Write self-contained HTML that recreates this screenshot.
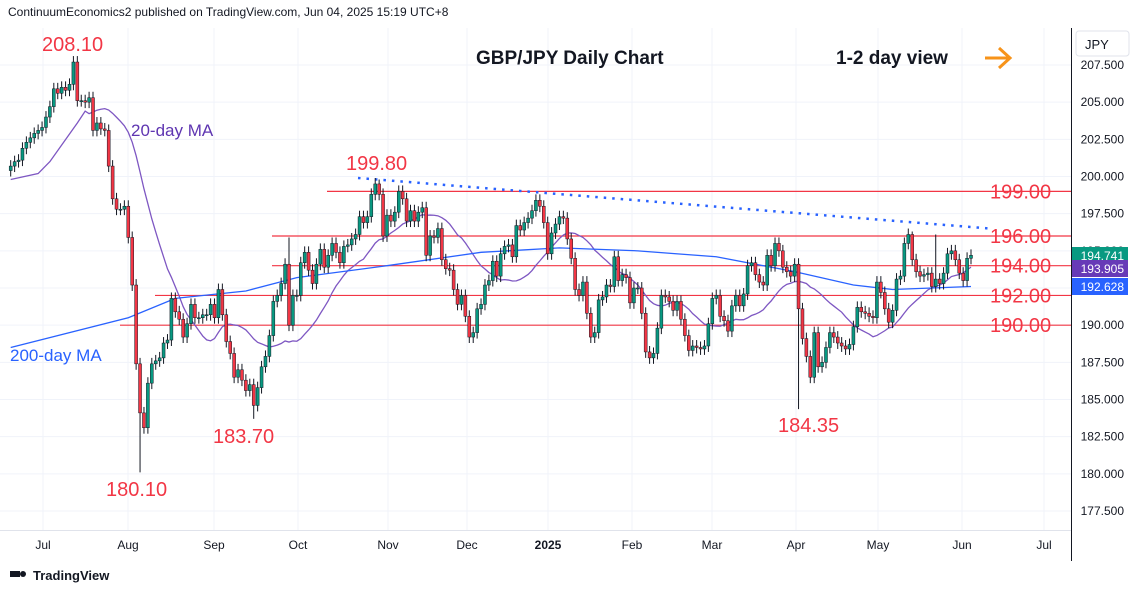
<!DOCTYPE html>
<html><head><meta charset="utf-8"><style>
body{margin:0;background:#fff;width:1143px;height:593px;overflow:hidden;font-family:"Liberation Sans",sans-serif}
svg text{font-family:"Liberation Sans",sans-serif}
</style></head><body>
<svg id="chart" width="1143" height="593" xmlns="http://www.w3.org/2000/svg">
<text x="8" y="16" font-size="12" fill="#131722">ContinuumEconomics2 published on TradingView.com, Jun 04, 2025 15:19 UTC+8</text>
<g id="grid"></g>
<g id="levels"></g>
<g id="mas"></g>
<g id="candles"></g>
<line x1="1071.5" y1="28" x2="1071.5" y2="561" stroke="#131722" stroke-width="1"/>
<line x1="0" y1="530.5" x2="1071" y2="530.5" stroke="#e0e3eb"/>
<g id="yaxis"></g>
<g id="xaxis"></g>
<rect x="1076" y="31" width="53" height="25" rx="3" fill="#fff" stroke="#e0e3eb"/>
<text x="1085" y="49" font-size="13" fill="#131722">JPY</text>
<text x="476" y="64" font-size="19" font-weight="bold" fill="#131722">GBP/JPY Daily Chart</text>
<text x="836" y="64" font-size="19" font-weight="bold" fill="#131722">1-2 day view</text>
<g><line x1="985" y1="58" x2="1008" y2="58" stroke="#f7931a" stroke-width="3"/><polyline points="999,48 1010,58 999,68" fill="none" stroke="#f7931a" stroke-width="3"/></g>
<text x="131" y="136" font-size="17" fill="#5e35b1">20-day MA</text>
<text x="10" y="361" font-size="17" fill="#2962ff">200-day MA</text>
<g font-size="20" fill="#f23645">
<text x="42" y="51">208.10</text>
<text x="346" y="170">199.80</text>
<text x="213" y="443">183.70</text>
<text x="106" y="496">180.10</text>
<text x="778" y="432">184.35</text>
</g>
<g id="levelLabels" font-size="20" fill="#f23645"></g>
<g id="tags"></g>
<g><rect x="10" y="571" width="10" height="6" fill="#131722"/><circle cx="23" cy="574" r="3" fill="#131722"/><text x="33" y="580" font-size="13" font-weight="bold" fill="#131722">TradingView</text></g>
</svg>
<script>
const closes=[200.7,201.0,201.1,201.9,202.3,202.6,202.9,203.1,203.3,204.0,
204.7,205.9,205.6,206.0,205.8,206.2,207.7,205.1,205.1,205.0,
205.3,203.1,203.6,203.2,203.1,200.7,198.5,197.8,197.8,198.0,
195.9,192.7,187.4,184.1,183.1,186.1,187.4,187.6,187.8,188.8,
189.0,191.8,190.9,190.4,189.2,190.1,191.4,190.5,190.5,190.7,
190.7,191.4,190.5,192.4,190.7,188.9,188.1,186.5,187.0,186.3,
185.6,186.0,184.6,185.8,187.2,187.9,189.3,191.6,
192.0,192.8,194.1,190.0,192.0,192.0,194.2,194.9,193.7,192.8,194.1,195.1,193.9,194.7,195.5,194.9,194.2,195.3,195.4,
195.8,196.1,197.3,196.9,197.3,198.8,199.5,198.8,196.0,197.4,
197.0,197.6,199.0,198.5,197.0,197.7,197.0,197.6,197.9,194.7,
196.0,195.9,196.5,194.4,193.8,193.7,192.4,191.4,192.0,190.6,
189.2,189.5,191.1,191.4,192.7,193.0,194.3,193.3,194.8,195.3,
195.4,194.6,196.7,196.4,196.9,197.2,197.7,198.4,198.0,196.9,
194.8,196.2,196.8,197.3,
197.2,195.8,194.5,192.4,192.0,192.9,190.8,189.2,189.5,191.7,
191.9,192.7,192.6,194.6,193.0,193.4,193.2,191.5,192.5,192.5,
190.8,188.2,187.8,188.1,189.8,192.0,191.9,191.6,191.0,191.6,
190.4,189.3,188.3,188.6,188.5,188.4,188.6,190.1,191.8,192.0,
190.6,190.3,189.6,191.3,192.0,191.3,192.1,194.0,194.2,193.4,
192.9,192.7,194.7,194.0,195.5,195.0,193.9,193.6,
193.3,194.1,191.1,189.1,187.9,186.5,189.5,187.2,187.5,188.5,
189.5,189.2,188.8,188.6,188.4,188.7,189.9,191.2,190.9,190.8,
190.6,190.5,192.9,192.2,191.1,190.2,191.0,193.1,193.3,195.5,
196.1,194.4,193.6,193.3,193.4,193.5,192.6,193.1,192.8,193.5,
194.8,195.0,194.4,193.5,193.0,194.5,194.7];
const extremeIdx=[16,33,62,71,94,201,230,236];
const extremeHigh=[208.1,null,null,195.9,199.8,null,196.3,196.1];
const extremeLow=[null,180.1,183.7,null,null,184.35,null,null];
const ma20EarlyIdx=[0,7,10,17,19];
const ma20EarlyVal=[199.8,200.2,201.0,203.6,204.4];
const ma200Idx=[0,30,42,60,73,96,120,140,160,180,200,215,225,235,245];
const ma200Val=[188.5,190.5,191.8,192.3,193.2,194.0,194.9,195.2,195.0,194.6,193.6,192.7,192.4,192.5,192.6];
const levels=[199,196,194,192,190];
const levelStartX=[327,272,272,155,120];
const priceTicks=["207.500","205.000","202.500","200.000","197.500","195.000","192.500","190.000","187.500","185.000","182.500","180.000","177.500"];
const months=["Jul","Aug","Sep","Oct","Nov","Dec","2025","Feb","Mar","Apr","May","Jun","Jul"];
const monthX=[43,128,214,298,388,467,548,632,712,796,878,962,1044];
const trend=[[358,199.9],[990,196.5]];

const NS="http://www.w3.org/2000/svg";
const Y=v=>65+(207.5-v)*14.867;
const X0=10.7,STEP=(971-10.7)/(closes.length-1);
const X=i=>X0+i*STEP;
function mk(tag,attrs,parent){const e=document.createElementNS(NS,tag);for(const k in attrs)e.setAttribute(k,attrs[k]);parent.appendChild(e);return e;}
const grid=document.getElementById('grid');
priceTicks.forEach((t,k)=>{const y=Y(parseFloat(t));
 const l=mk('line',{x1:0,x2:1071,y1:y,y2:y,stroke:'#f0f3fa'},grid);
 
 
 const tx=mk('text',{x:1124,y:y+4,'font-size':12,fill:'#131722','text-anchor':'end'},document.getElementById('yaxis'));
 tx.textContent=t;
 
 
});
months.forEach((m,k)=>{
 const l=mk('line',{x1:monthX[k],x2:monthX[k],y1:28,y2:530,stroke:'#f0f3fa'},grid);
 
 
 const tx=mk('text',{x:monthX[k],y:549,'font-size':12,fill:'#131722','text-anchor':'middle','font-weight':m==='2025'?'bold':'normal'},document.getElementById('xaxis'));
 tx.textContent=m;
 
 
});
const lv=document.getElementById('levels');
levels.forEach((v,k)=>{
 const l=mk('line',{x1:levelStartX[k],x2:1071,y1:Y(v),y2:Y(v),stroke:'#f23645','stroke-width':1.2},lv);
 
 
 const t=mk('text',{x:990,y:Y(v)+7},document.getElementById('levelLabels'));
 t.textContent=v.toFixed(2);
 
 
});
const tl=mk('line',{x1:trend[0][0],y1:Y(trend[0][1]),x2:trend[1][0],y2:Y(trend[1][1]),stroke:'#2962ff','stroke-width':2.5,'stroke-dasharray':'2.5 6'},lv);


// MAs
const mas=document.getElementById('mas');
let p20=ma20EarlyIdx.map((i,k)=>X(i)+','+Y(ma20EarlyVal[k]));
let last20=0;
for(let i=20;i<closes.length;i++){let s=0;for(let j=i-19;j<=i;j++)s+=closes[j];last20=s/20;p20.push(X(i)+','+Y(last20));}
const m20=mk('polyline',{points:p20.join(' '),fill:'none',stroke:'#7e57c2','stroke-width':1.3},mas);


const m200=mk('polyline',{points:ma200Idx.map((i,k)=>X(i)+','+Y(ma200Val[k])).join(' '),fill:'none',stroke:'#2962ff','stroke-width':1.3},mas);


// candles
const cg=document.getElementById('candles');
closes.forEach((c,i)=>{
 const o=i?closes[i-1]:c-0.3;
 const up=c>=o,col=up?'#089981':'#f23645';
 let hi=Math.max(o,c)+0.4,lo=Math.min(o,c)-0.4;
 const k=extremeIdx.indexOf(i);
 if(k>=0){if(extremeHigh[k]!=null)hi=extremeHigh[k];if(extremeLow[k]!=null)lo=extremeLow[k];}
 const g=mk('g',{},cg);
 
 
 const x=X(i);
 mk('line',{x1:x,x2:x,y1:Y(hi),y2:Y(lo),stroke:'#131722','stroke-width':1},g);
 const yt=Y(Math.max(o,c)),yb=Y(Math.min(o,c));
 mk('rect',{x:x-1.5,y:yt,width:3,height:Math.max(1,yb-yt),fill:col,stroke:'#131722','stroke-width':0.5},g);
});
// tags
const tags=document.getElementById('tags');
const tagVals=[closes[closes.length-1]+0.041,last20,ma200Val[ma200Val.length-1]+0.028];
const tagCols=['#089981','#673ab7','#2962ff'];
const tagY=[256,269,287];
const tagNames=['last-price-tag','ma20-tag','ma200-tag'];
tagVals.forEach((v,k)=>{
 const g=mk('g',{},tags);
 
 
 mk('rect',{x:1072,y:tagY[k]-9,width:56,height:17,fill:tagCols[k]},g);
 const t=mk('text',{x:1124,y:tagY[k]+4,'font-size':12,fill:'#fff','text-anchor':'end'},g);
 t.textContent=v.toFixed(3);
});
</script>
</body></html>
